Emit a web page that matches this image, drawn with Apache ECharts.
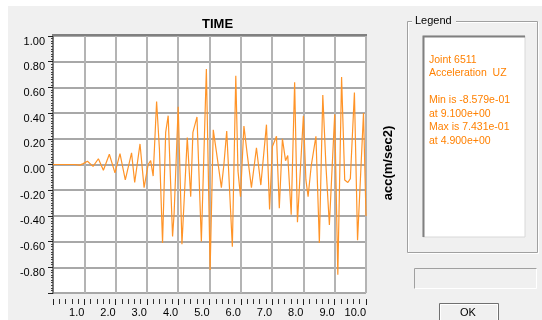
<!DOCTYPE html>
<html>
<head>
<meta charset="utf-8">
<script src="https://cdn.jsdelivr.net/npm/echarts@6/dist/echarts.min.js"></script>
<style>
  html, body { margin: 0; padding: 0; background: #fff; }
  #chart { width: 542px; height: 320px; }
</style>
</head>
<body>
<div id="chart"></div>
<script>
// time (s) and acceleration (m/sec2)
const times = [
  0.0, 0.7, 0.75, 0.85, 0.95, 1.1, 1.28, 1.45, 1.61, 1.8, 1.98, 2.14, 2.31, 2.51, 2.61,
  2.78, 2.91, 3.04, 3.12, 3.2, 3.31, 3.4, 3.5, 3.6, 3.68, 3.82, 3.87, 4.0, 4.12, 4.29,
  4.4, 4.47, 4.6, 4.74, 4.9, 5.02, 5.12, 5.22, 5.38, 5.46, 5.55, 5.73, 5.84, 5.91, 5.99,
  6.1, 6.2, 6.34, 6.5, 6.64, 6.82, 6.92, 7.01, 7.14, 7.23, 7.33, 7.43, 7.5, 7.61, 7.72,
  7.81, 7.94, 8.0, 8.08, 8.15, 8.25, 8.4, 8.51, 8.62, 8.72, 8.83, 9.0, 9.1, 9.22, 9.32,
  9.42, 9.5, 9.63, 9.73, 9.92, 10.0
];
const accel = [
  0.0, 0.0, 0.01, -0.005, 0.005, 0.025, -0.015, 0.045, -0.045, 0.08, -0.065, 0.085, -0.12, 0.09, -0.14,
  0.16, -0.18, 0.0, 0.03, -0.09, 0.49, 0.12, -0.61, 0.25, 0.38, -0.56, -0.38, 0.45, -0.62, 0.21,
  -0.25, 0.25, 0.37, -0.6, 0.743, -0.82, 0.27, 0.1, -0.18, 0.0, 0.26, -0.64, 0.69, -0.05, -0.25,
  0.3, 0.09, -0.18, 0.13, -0.16, 0.31, -0.35, 0.14, 0.22, -0.34, 0.2, 0.03, 0.07, -0.39, 0.64,
  -0.45, 0.12, 0.38, -0.12, -0.25, -0.01, 0.22, -0.61, 0.54, -0.01, -0.47, 0.39, -0.858, 0.68, -0.12,
  -0.14, -0.11, 0.56, -0.59, 0.4, -0.4
];
const legendLines = [
  'Joint 6511', 'Acceleration  UZ', '',
  'Min is -8.579e-01', 'at 9.100e+00', 'Max is 7.431e-01', 'at 4.900e+00'
];

const font = 'Liberation Sans, Arial, sans-serif';
const orange = '#ff8000';

const chart = echarts.init(document.getElementById('chart'));

const legendText = legendLines.map((line, i) => ({
  type: 'text',
  x: 429,
  y: 60 + i * 13.5,
  style: { text: line, fill: orange, font: '10.5px ' + font, verticalAlign: 'middle' },
}));

chart.setOption({
  animation: false,
  backgroundColor: '#f0f0f0',
  title: {
    text: 'TIME',
    left: 197,
    top: 13,
    textStyle: { fontFamily: font, fontSize: 13, fontWeight: 'bold', color: '#000' },
  },
  grid: {
    left: 53, top: 36, width: 313, height: 257,
    show: true, backgroundColor: '#ffffff', borderWidth: 0,
  },
  xAxis: {
    type: 'value',
    min: 0, max: 10, interval: 1,
    offset: 6,
    axisLine: { show: false, onZero: false },
    axisTick: { show: true, length: 6, lineStyle: { color: '#202020' } },
    minorTick: { show: true, splitNumber: 5, length: 5, lineStyle: { color: '#303030' } },
    axisLabel: {
      color: '#000', fontFamily: font, fontSize: 11, margin: 8, align: 'right',
      formatter: (v) => (v === 0 ? '' : v.toFixed(1)),
    },
    splitLine: { show: true, lineStyle: { color: '#b4b4b4', width: 2 } },
  },
  yAxis: {
    type: 'value',
    min: -1, max: 1, interval: 0.2,
    axisLine: { show: true, onZero: false, lineStyle: { color: '#7a7a7a', width: 2 } },
    axisTick: { show: true, length: 5, lineStyle: { color: '#202020' } },
    minorTick: { show: true, splitNumber: 10, length: 2, lineStyle: { color: '#404040' } },
    axisLabel: {
      color: '#000', fontFamily: font, fontSize: 11, margin: 8, verticalAlign: 'top',
      formatter: (v) => (Math.abs(v + 1) < 1e-9 ? '' : v.toFixed(2)),
    },
    splitLine: { show: true, lineStyle: { color: '#a8a8a8', width: 2 } },
  },
  series: [
    {
      type: 'line',
      showSymbol: false,
      lineStyle: { color: '#ff9428', width: 1.2 },
      data: times.map((t, i) => [t, accel[i]]),
    },
  ],
  graphic: [
    // white margins of the window
    { type: 'rect', shape: { x: 0, y: 0, width: 542, height: 6 }, style: { fill: '#ffffff' } },
    { type: 'rect', shape: { x: 0, y: 0, width: 8, height: 320 }, style: { fill: '#ffffff' } },
    // top border of plot
    {
      type: 'line', z: 10,
      shape: { x1: 52, y1: 35, x2: 367, y2: 35 },
      style: { stroke: '#808080', lineWidth: 2 },
    },
    // y axis name
    {
      type: 'text', x: 388, y: 163, rotation: Math.PI / 2,
      style: {
        text: 'acc(m/sec2)', fill: '#000', font: 'bold 13px ' + font,
        align: 'center', verticalAlign: 'middle',
      },
    },
    // legend group box
    {
      type: 'rect', shape: { x: 408.5, y: 22.5, width: 130, height: 231 },
      style: { fill: 'none', stroke: '#ffffff', lineWidth: 1 },
    },
    {
      type: 'rect', shape: { x: 407.5, y: 21.5, width: 130, height: 231 },
      style: { fill: 'none', stroke: '#a0a0a0', lineWidth: 1 },
    },
    { type: 'rect', shape: { x: 412, y: 14, width: 44, height: 14 }, style: { fill: '#f0f0f0' } },
    {
      type: 'text', x: 415, y: 21,
      style: { text: 'Legend', fill: '#000', font: '11px ' + font, verticalAlign: 'middle' },
    },
    // legend inner box
    {
      type: 'rect', shape: { x: 423, y: 36, width: 102, height: 201 },
      style: { fill: '#ffffff', stroke: '#d8d8d8', lineWidth: 1 },
    },
    {
      type: 'polyline', shape: { points: [[423.5, 237], [423.5, 36.5], [525, 36.5]] },
      style: { fill: 'none', stroke: '#808080', lineWidth: 2 },
    },
    ...legendText,
    // status box
    {
      type: 'rect', shape: { x: 414.5, y: 268.5, width: 122, height: 20 },
      style: { fill: '#f0f0f0', stroke: '#ffffff', lineWidth: 1 },
    },
    {
      type: 'polyline', shape: { points: [[414.5, 288.5], [414.5, 268.5], [536.5, 268.5]] },
      style: { fill: 'none', stroke: '#a0a0a0', lineWidth: 1 },
    },
    // OK button
    {
      type: 'rect', shape: { x: 439.5, y: 303.5, width: 59, height: 22 },
      style: { fill: '#f0f0f0', stroke: '#707070', lineWidth: 1 },
    },
    {
      type: 'rect', shape: { x: 440.5, y: 304.5, width: 57, height: 20 },
      style: { fill: 'none', stroke: '#ffffff', lineWidth: 1 },
    },
    {
      type: 'text', x: 468, y: 313,
      style: {
        text: 'OK', fill: '#000', font: '11px ' + font,
        align: 'center', verticalAlign: 'middle',
      },
    },
  ],
});
</script>
</body>
</html>
